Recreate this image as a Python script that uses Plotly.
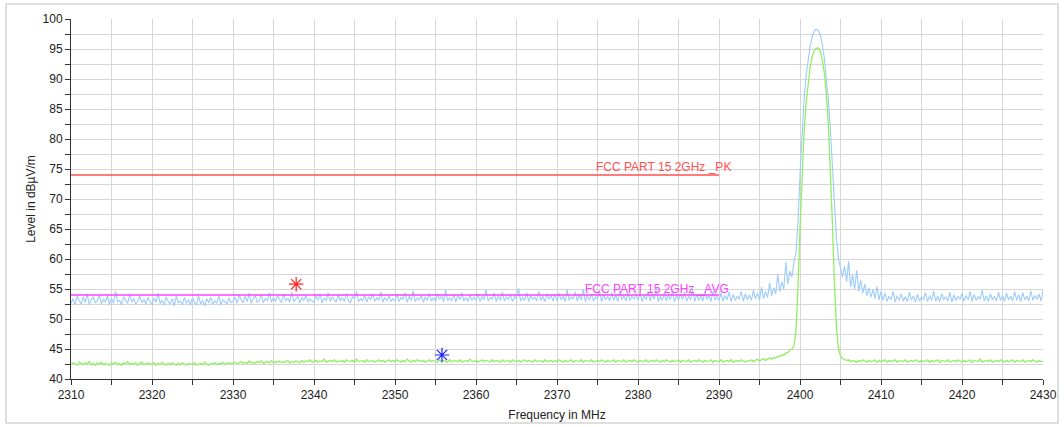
import numpy as np
import plotly.graph_objects as go

# ---------------- data ----------------
# Peak detector trace (dBµV/m), 0.25 MHz samples
pk_left_level = [  # 2310 ... 2399 MHz
    52.6, 53.4, 52.3, 53.9, 53.1, 52.5, 53.7, 52.8, 54.2, 52.4, 53.2, 53.6, 52.7, 53.0, 54.0, 52.5, 53.3, 52.9, 53.8, 52.4,
    53.5, 52.6, 54.6, 52.9, 53.1, 52.4, 53.7, 53.2, 52.6, 54.1, 52.8, 53.4, 52.5, 53.0, 53.9, 52.7, 53.3, 52.5, 53.6, 52.9,
    52.4, 53.5, 52.8, 54.3, 52.6, 53.1, 52.3, 53.7, 52.9, 52.5, 53.4, 52.2, 53.8, 52.7, 53.0, 52.4, 53.6, 52.6, 53.2, 52.3,
    53.5, 52.8, 52.4, 53.9, 52.5, 53.1, 52.2, 53.4, 52.7, 53.6, 52.4, 53.0, 52.6, 53.8, 52.3, 53.2, 52.9, 52.5, 53.5, 52.7,
    52.9, 53.7, 52.6, 54.0, 53.2, 52.7, 53.8, 52.9, 54.3, 52.6, 53.4, 53.9, 52.8, 53.1, 54.1, 52.7, 53.5, 53.0, 54.4, 52.8,
    53.6, 52.9, 53.9, 53.2, 52.7, 54.2, 53.0, 53.5, 52.8, 54.5, 52.9, 53.3, 53.8, 52.7, 53.6, 53.1, 54.0, 52.8, 53.4, 53.0,
    52.8, 53.9, 53.1, 54.2, 52.7, 53.5, 53.0, 54.4, 52.9, 53.7, 53.2, 52.8, 54.1, 53.0, 53.6, 52.9, 54.3, 53.1, 52.7, 53.8,
    53.3, 54.6, 52.9, 53.4, 53.0, 54.0, 52.8, 53.7, 53.2, 54.2, 52.9, 53.5, 53.1, 54.5, 52.8, 53.6, 53.0, 53.9, 52.9, 53.4,
    53.0, 54.1, 52.9, 53.6, 53.3, 54.4, 52.8, 53.8, 53.1, 54.7, 52.9, 53.5, 53.2, 54.0, 52.8, 53.7, 53.1, 54.3, 53.0, 53.6,
    52.9, 54.2, 53.3, 53.8, 52.9, 54.8, 53.1, 53.5, 53.0, 54.1, 52.8, 53.9, 53.2, 54.4, 53.0, 53.6, 52.9, 54.0, 53.1, 53.7,
    53.1, 54.2, 52.9, 53.8, 53.2, 54.9, 53.0, 53.6, 53.3, 54.3, 52.9, 53.9, 53.1, 54.5, 53.0, 53.7, 53.2, 54.1, 52.9, 53.8,
    53.3, 55.1, 53.0, 53.6, 53.1, 54.4, 52.9, 54.0, 53.2, 53.7, 53.0, 54.6, 53.1, 53.8, 52.9, 54.2, 53.3, 53.9, 53.0, 54.1,
    53.0, 54.3, 53.2, 53.8, 52.9, 54.9, 53.1, 53.7, 53.3, 54.5, 53.0, 54.0, 53.2, 55.0, 52.9, 53.9, 53.1, 54.2, 53.0, 53.7,
    53.3, 54.6, 52.9, 54.1, 53.2, 53.8, 53.0, 54.4, 53.1, 54.0, 52.9, 54.7, 53.2, 53.9, 53.0, 54.3, 53.1, 53.8, 53.3, 54.1,
    53.1, 54.4, 52.9, 53.9, 53.2, 54.6, 53.0, 54.1, 53.3, 55.1, 52.9, 53.8, 53.1, 54.3, 53.0, 54.0, 53.2, 54.7, 52.9, 53.9,
    53.1, 54.2, 53.3, 54.5, 53.0, 53.8, 53.2, 54.9, 52.9, 54.1, 53.1, 53.9, 53.0, 54.4, 53.3, 54.0, 52.9, 54.6, 53.2, 53.8,
    53.1, 54.3, 53.0, 53.9, 53.2, 54.5, 52.9, 54.1, 53.1, 53.8, 53.3, 54.6, 53.0, 54.2, 53.2, 54.0, 53.1, 54.8, 53.3, 54.3,
    53.2, 55.3, 53.4, 54.6, 53.6, 56.0, 53.9, 55.2, 54.2, 57.5, 54.6, 56.2, 55.0, 59.5, 55.8, 58.0, 57.0,
]
pk_center_level = [  # 2399.25 ... 2405.25 MHz
    59.5, 61.0, 66.0, 74.0, 81.0, 86.5, 90.5, 93.5, 95.5, 97.0, 98.0, 98.3, 98.1,
    97.3, 95.8, 93.5, 90.5, 86.5, 81.5, 75.5, 69.0, 63.5, 60.0, 58.5, 57.0,
]
pk_right_level = [  # 2405.5 ... 2430 MHz
    58.8, 56.2, 59.6, 55.4, 57.3, 55.0, 58.1, 54.6, 56.5, 54.3, 55.8, 53.9, 55.2, 53.6, 54.9, 53.4, 55.4, 53.2, 54.6,
    53.1, 54.3, 52.9, 53.8, 53.2, 54.6, 52.8, 53.9, 53.1, 54.2, 53.0, 53.7, 52.9, 54.5, 53.2, 53.8, 52.8, 54.1, 53.0, 53.6,
    53.3, 54.4, 52.9, 53.9, 53.1, 54.7, 53.0, 53.8, 52.9, 54.2, 53.2, 53.7, 53.0, 54.5, 52.8, 54.0, 53.1, 53.8, 53.3, 54.3,
    53.0, 53.9, 53.2, 54.6, 52.9, 54.1, 53.1, 53.7, 53.3, 54.8, 53.0, 53.9, 52.9, 54.2, 53.2, 53.8, 53.0, 54.5, 53.1, 53.9,
    52.9, 54.3, 53.2, 53.8, 53.0, 54.6, 53.1, 54.0, 52.9, 54.4, 53.2, 53.8, 53.0, 54.7, 53.1, 53.9, 53.3, 54.2, 53.0, 54.9,
]

# Average detector trace (dBµV/m), 0.25 MHz samples
av_left_level = [  # 2310 ... 2399 MHz
    42.4, 42.7, 42.5, 42.3, 42.8, 42.6, 42.4, 42.7, 42.5, 42.9, 42.4, 42.6, 42.3, 42.7, 42.5, 42.8, 42.4, 42.6, 42.5, 42.3,
    42.7, 42.5, 42.8, 42.4, 42.6, 42.3, 42.7, 42.5, 42.9, 42.4, 42.6, 42.5, 42.7, 42.3, 42.6, 42.8, 42.4, 42.5, 42.7, 42.4,
    42.5, 42.7, 42.3, 42.6, 42.4, 42.8, 42.5, 42.3, 42.6, 42.4, 42.7, 42.5, 42.3, 42.6, 42.4, 42.7, 42.5, 42.3, 42.6, 42.5,
    42.4, 42.7, 42.3, 42.5, 42.6, 42.4, 42.8, 42.5, 42.3, 42.6, 42.5, 42.7, 42.4, 42.6, 42.5, 42.8, 42.4, 42.6, 42.7, 42.5,
    42.6, 42.8, 42.5, 42.7, 42.9, 42.6, 42.8, 42.6, 43.0, 42.7, 42.8, 42.6, 42.9, 42.7, 43.0, 42.6, 42.8, 42.9, 42.7, 43.1,
    42.7, 42.9, 42.8, 43.0, 42.7, 42.9, 42.8, 43.1, 42.7, 42.9, 42.8, 43.0, 42.9, 42.7, 43.1, 42.8, 43.0, 42.9, 43.2, 42.8,
    42.9, 43.1, 42.8, 43.0, 42.9, 43.3, 42.8, 43.0, 43.1, 42.9, 43.2, 42.8, 43.0, 42.9, 43.1, 42.8, 43.2, 43.0, 42.9, 43.1,
    42.8, 43.3, 42.9, 43.0, 43.1, 42.8, 43.2, 42.9, 43.0, 43.1, 42.8, 43.0, 43.2, 42.9, 43.1, 42.8, 43.0, 43.2, 42.9, 43.1,
    42.9, 43.2, 43.0, 42.8, 43.1, 42.9, 43.3, 43.0, 42.8, 43.1, 42.9, 43.2, 43.0, 42.9, 43.1, 42.8, 43.0, 43.2, 42.9, 43.1,
    43.0, 42.8, 43.2, 42.9, 43.1, 43.0, 42.8, 43.2, 42.9, 43.0, 43.1, 42.9, 43.2, 42.8, 43.0, 43.1, 42.9, 43.3, 43.0, 42.9,
    43.1, 42.8, 43.0, 43.2, 42.9, 43.1, 43.0, 42.8, 43.2, 42.9, 43.1, 43.0, 42.8, 43.2, 42.9, 43.0, 43.1, 42.8, 43.2, 43.0,
    42.9, 43.1, 42.8, 43.0, 43.2, 42.9, 43.1, 43.0, 42.8, 43.2, 42.9, 43.0, 43.1, 42.8, 43.2, 42.9, 43.0, 43.1, 42.8, 43.1,
    42.9, 43.2, 43.0, 42.8, 43.1, 42.9, 43.0, 43.2, 42.8, 43.1, 43.0, 42.9, 43.2, 42.8, 43.1, 43.0, 42.9, 43.2, 42.8, 43.0,
    43.1, 42.9, 43.2, 43.0, 42.8, 43.1, 42.9, 43.0, 43.2, 42.8, 43.1, 43.0, 42.9, 43.2, 42.8, 43.0, 43.1, 42.9, 43.2, 43.0,
    42.8, 43.1, 43.0, 42.9, 43.2, 42.8, 43.0, 43.1, 42.9, 43.2, 43.0, 42.8, 43.1, 42.9, 43.2, 43.0, 42.8, 43.1, 42.9, 43.0,
    43.2, 42.8, 43.1, 43.0, 42.9, 43.2, 42.8, 43.0, 43.1, 42.9, 43.2, 43.0, 42.8, 43.1, 42.9, 43.0, 43.2, 42.8, 43.1, 43.0,
    42.9, 43.2, 42.8, 43.0, 43.1, 42.9, 43.2, 42.8, 43.0, 43.1, 42.9, 43.2, 43.0, 42.8, 43.1, 43.0, 43.2, 42.9, 43.1, 43.3,
    43.0, 43.2, 43.4, 43.1, 43.3, 43.5, 43.3, 43.6, 43.5, 43.8, 43.7, 44.0, 44.0, 44.3, 44.4, 44.8, 45.0,
]
av_center_level = [  # 2399.25 ... 2405.25 MHz
    45.5, 48.0, 55.0, 65.0, 74.0, 81.0, 86.0, 89.5, 92.0, 93.7, 94.7, 95.1, 95.2,
    94.7, 93.3, 91.0, 87.5, 82.5, 75.0, 66.0, 56.0, 48.5, 45.0, 43.8, 43.4,
]
av_right_level = [  # 2405.5 ... 2430 MHz
    43.3, 43.1, 43.2, 42.9, 43.1, 43.0, 42.8, 43.1, 42.9, 43.2, 43.0, 42.8, 43.1, 42.9, 43.0, 43.2, 42.8, 43.1, 42.9,
    43.0, 43.2, 42.8, 43.1, 42.9, 43.0, 43.2, 42.8, 43.1, 43.0, 42.9, 43.2, 42.8, 43.0, 43.1, 42.9, 43.2, 43.0, 42.8, 43.1,
    42.9, 43.0, 43.2, 42.8, 43.1, 42.9, 43.0, 43.2, 42.8, 43.1, 43.0, 42.9, 43.2, 42.8, 43.0, 43.1, 42.9, 43.2, 43.0, 42.8,
    43.1, 42.9, 43.0, 43.2, 42.8, 43.1, 43.0, 42.9, 43.3, 42.8, 43.0, 43.1, 42.9, 43.2, 42.8, 43.0, 43.1, 42.9, 43.2, 43.0,
    42.8, 43.1, 42.9, 43.0, 43.2, 42.8, 43.1, 43.0, 42.9, 43.2, 42.8, 43.0, 43.1, 42.9, 43.2, 43.0, 42.8, 43.1, 42.9, 43.0,
]

limit_freq = [2310, 2390]
limit_pk = [74, 74]
limit_avg = [54, 54]
limit_pk_label = "FCC PART 15 2GHz _PK"
limit_avg_label = "FCC PART 15 2GHz _AVG"

marker_pk_freq = [2337.8]
marker_pk_level = [55.8]
marker_avg_freq = [2355.8]
marker_avg_level = [44.0]

x_ticks = list(range(2310, 2431, 10))
y_ticks = list(range(40, 101, 5))

# ---------------- sample grids ----------------
STEP = 0.25
def left_grid(n):   # ends at 2399 MHz
    return 2399.0 - STEP * np.arange(n)[::-1]
def center_grid(n):  # starts at 2399.25 MHz
    return 2399.25 + STEP * np.arange(n)
def right_grid(n):  # starts at 2405.5 MHz
    return 2405.5 + STEP * np.arange(n)

pk_freq = np.concatenate([left_grid(len(pk_left_level)), center_grid(len(pk_center_level)),
                          right_grid(len(pk_right_level))])
pk = np.array(pk_left_level + pk_center_level + pk_right_level)
av_freq = np.concatenate([left_grid(len(av_left_level)), center_grid(len(av_center_level)),
                          right_grid(len(av_right_level))])
av = np.array(av_left_level + av_center_level + av_right_level)

# ---------------- figure ----------------
fig = go.Figure()
fig.add_trace(go.Scatter(x=pk_freq, y=pk, mode="lines",
                         line=dict(color="#9ccbfb", width=1.1), hoverinfo="skip"))
fig.add_trace(go.Scatter(x=av_freq, y=av, mode="lines",
                         line=dict(color="#92ee62", width=1.3), hoverinfo="skip"))
fig.add_trace(go.Scatter(x=limit_freq, y=limit_pk, mode="lines",
                         line=dict(color="#ff5050", width=1.5)))
fig.add_trace(go.Scatter(x=limit_freq, y=limit_avg, mode="lines",
                         line=dict(color="#ff40ff", width=1.5)))
fig.add_trace(go.Scatter(x=marker_pk_freq, y=marker_pk_level, mode="markers",
                         marker=dict(symbol="asterisk-open", size=12, color="#ff2020",
                                     line=dict(color="#ff2020", width=1.2))))
fig.add_trace(go.Scatter(x=marker_avg_freq, y=marker_avg_level, mode="markers",
                         marker=dict(symbol="asterisk-open", size=12, color="#2020ff",
                                     line=dict(color="#2020ff", width=1.2))))

label_font = "Liberation Sans, Arial"
fig.add_annotation(x=limit_freq[1], y=limit_pk[0], text=limit_pk_label,
                   xanchor="center", yanchor="bottom", showarrow=False,
                   xshift=-56, yshift=-1,
                   font=dict(color="#ff5050", size=12, family=label_font))
fig.add_annotation(x=limit_freq[1], y=limit_avg[0], text=limit_avg_label,
                   xanchor="center", yanchor="bottom", showarrow=False,
                   xshift=-62, yshift=-3,
                   font=dict(color="#ff40ff", size=12, family=label_font))

# outer frame
fig.add_shape(type="rect", xref="paper", yref="paper",
              x0=-0.0669, x1=1.0154, y0=-0.1222, y1=1.0417,
              line=dict(color="#d4d4d4", width=1.5), layer="below")

axis_font = dict(family=label_font, size=12, color="#222222")
grid_col = "#d6d6d6"
fig.update_xaxes(range=[2310, 2430], tickvals=x_ticks, ticks="outside", ticklen=5,
                 tickcolor="#333333", showline=True, linecolor="#333333", linewidth=1,
                 showgrid=True, gridcolor=grid_col, gridwidth=1.3, zeroline=False,
                 automargin=False,
                 minor=dict(dtick=5, tick0=2310, ticks="outside", ticklen=5,
                            tickcolor="#333333", showgrid=True, gridcolor=grid_col, gridwidth=1.3),
                 tickfont=axis_font,
                 title=dict(text="Frequency in MHz", font=axis_font, standoff=9))
fig.update_yaxes(range=[40, 100], tickvals=y_ticks, ticks="outside", ticklen=5,
                 tickcolor="#333333", showline=True, linecolor="#333333", linewidth=1,
                 showgrid=True, gridcolor=grid_col, gridwidth=1.3, zeroline=False,
                 automargin=False,
                 minor=dict(dtick=2.5, tick0=40, ticks="outside", ticklen=5,
                            tickcolor="#333333", showgrid=True, gridcolor=grid_col, gridwidth=1.3),
                 tickfont=axis_font,
                 title=dict(text="Level in dBµV/m", font=axis_font, standoff=4))

fig.update_layout(width=1064, height=427, showlegend=False,
                  margin=dict(l=71, r=21, t=19, b=48),
                  plot_bgcolor="white", paper_bgcolor="white")

# remove the default page margin so the figure sits at the window's top-left corner
fig.write_html("out.html", config={"displayModeBar": False},
               post_script="document.body.style.margin='0px';")
